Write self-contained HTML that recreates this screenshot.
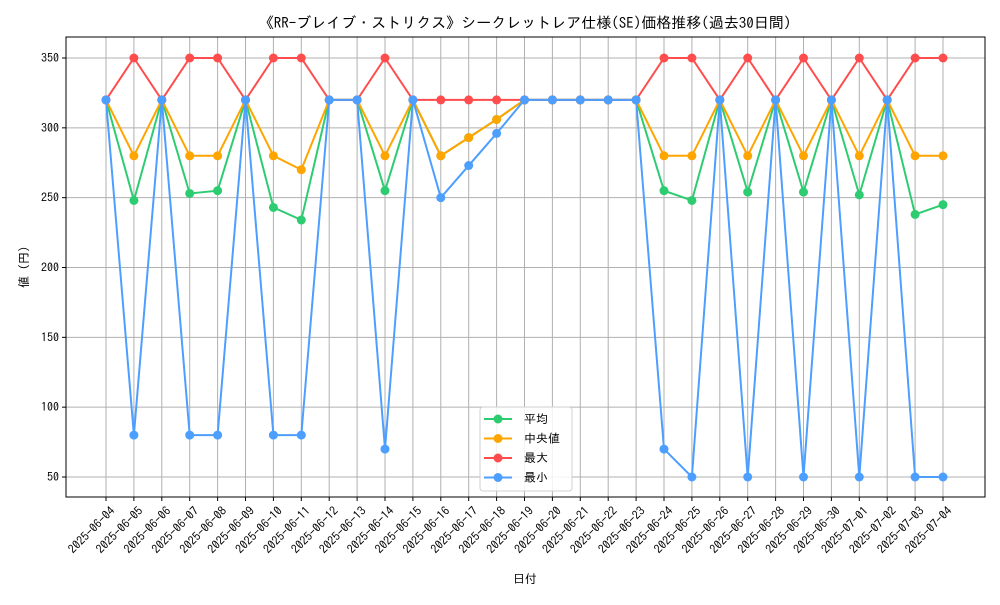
<!DOCTYPE html>
<html><head><meta charset="utf-8"><style>
body{margin:0;background:#fff}
svg text{font-family:"IPAGothic","Noto Sans CJK JP",sans-serif;fill:#000}
</style></head><body>
<svg id="c" width="1000" height="600" xmlns="http://www.w3.org/2000/svg"></svg>
<script>
const dates=["2025-06-04","2025-06-05","2025-06-06","2025-06-07","2025-06-08","2025-06-09","2025-06-10","2025-06-11","2025-06-12","2025-06-13","2025-06-14","2025-06-15","2025-06-16","2025-06-17","2025-06-18","2025-06-19","2025-06-20","2025-06-21","2025-06-22","2025-06-23","2025-06-24","2025-06-25","2025-06-26","2025-06-27","2025-06-28","2025-06-29","2025-06-30","2025-07-01","2025-07-02","2025-07-03","2025-07-04"];
const avgVals=[320,248,320,253,255,320,243,234,320,320,255,320,280,293,306,320,320,320,320,320,255,248,320,254,320,254,320,252,320,238,245];
const medVals=[320,280,320,280,280,320,280,270,320,320,280,320,280,293,306,320,320,320,320,320,280,280,320,280,320,280,320,280,320,280,280];
const maxVals=[320,350,320,350,350,320,350,350,320,320,350,320,320,320,320,320,320,320,320,320,350,350,320,350,320,350,320,350,320,350,350];
const minVals=[320,80,320,80,80,320,80,80,320,320,70,320,250,273,296,320,320,320,320,320,70,50,320,50,320,50,320,50,320,50,50];
const yTicks=[50,100,150,200,250,300,350];
const svg=document.getElementById('c');const NS='http://www.w3.org/2000/svg';
const L=66,T=37,R=985,B=497;
const x=i=>106+i*(943-106)/(dates.length-1);
const y=v=>477-(v-50)*(477-58)/300;
function mk(tag,attrs,name,txt){const e=document.createElementNS(NS,tag);for(const k in attrs)e.setAttribute(k,attrs[k]);


if(txt!==undefined)e.textContent=txt;svg.appendChild(e);return e;}
dates.forEach((d,i)=>{mk('line',{x1:x(i),x2:x(i),y1:T,y2:B,stroke:'#b0b0b0','stroke-width':1},'x-grid-line');
mk('line',{x1:x(i),x2:x(i),y1:B,y2:B+4,stroke:'#000'},'x-tick');
mk('text',{x:x(i)+4,y:B+9,'font-size':12,'text-anchor':'end',transform:`rotate(-45 ${x(i)+4} ${B+9})`,'dominant-baseline':'hanging'},'x-tick-label',d);});
yTicks.forEach(v=>{mk('line',{x1:L,x2:R,y1:y(v),y2:y(v),stroke:'#b0b0b0','stroke-width':1},'y-grid-line');
mk('line',{x1:L-4,x2:L,y1:y(v),y2:y(v),stroke:'#000'},'y-tick');
mk('text',{x:L-7,y:y(v)+4,'font-size':12,'text-anchor':'end'},'y-tick-label',String(v));});
mk('rect',{x:L,y:T,width:R-L,height:B-T,fill:'none',stroke:'#000','stroke-width':1},'plot-frame');
const series=[["avg",avgVals,"#2ecc71"],["median",medVals,"#ffa500"],["max",maxVals,"#ff4d4d"],["min",minVals,"#4d9fff"]];
series.forEach(([n,vals,c])=>{mk('polyline',{points:vals.map((v,i)=>x(i)+','+y(v)).join(' '),fill:'none',stroke:c,'stroke-width':2},n+'-line');
vals.forEach((v,i)=>mk('circle',{cx:x(i),cy:y(v),r:4.5,fill:c},n+'-point'));});
mk('text',{x:525,y:28,'font-size':15,'text-anchor':'middle'},'chart-title','《RR-ブレイブ・ストリクス》シークレットレア仕様(SE)価格推移(過去30日間)');
mk('text',{x:525,y:583,'font-size':12,'text-anchor':'middle'},'x-axis-title','日付');
mk('text',{x:28,y:267,'font-size':12,'text-anchor':'middle',transform:'rotate(-90 28 267)'},'y-axis-title','値 (円)');
mk('rect',{x:480,y:407,width:92,height:84,rx:3,fill:'#fff','fill-opacity':0.85,stroke:'#d0d0d0'},'legend-box');
const labels=["平均","中央値","最大","最小"];
series.forEach(([n,v,c],k)=>{const ly=419+k*19.5;
mk('line',{x1:484,x2:512,y1:ly,y2:ly,stroke:c,'stroke-width':2},'legend-line-'+n);
mk('circle',{cx:498,cy:ly,r:4.5,fill:c},'legend-marker-'+n);
mk('text',{x:524,y:ly+4,'font-size':12},'legend-label-'+n,labels[k]);});
</script></body></html>
